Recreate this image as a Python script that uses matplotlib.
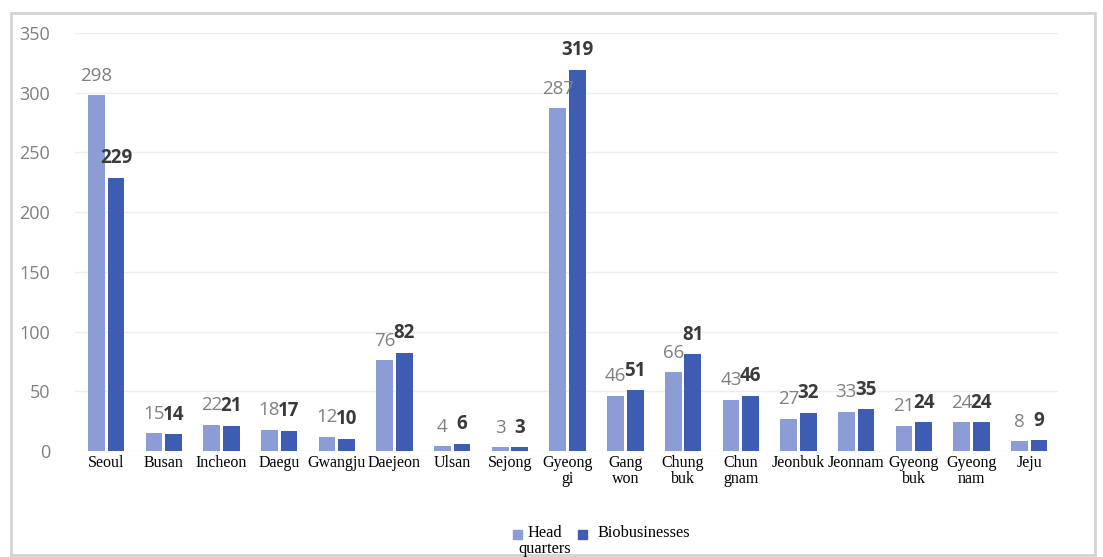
import numpy as np
import matplotlib.pyplot as plt
from matplotlib.patches import Rectangle

regions = ["Seoul", "Busan", "Incheon", "Daegu", "Gwangju", "Daejeon", "Ulsan",
           "Sejong", "Gyeong\ngi", "Gang\nwon", "Chung\nbuk", "Chun\ngnam",
           "Jeonbuk", "Jeonnam", "Gyeong\nbuk", "Gyeong\nnam", "Jeju"]
headquarters = [298, 15, 22, 18, 12, 76, 4, 3, 287, 46, 66, 43, 27, 33, 21, 24, 8]
biobusinesses = [229, 14, 21, 17, 10, 82, 6, 3, 319, 51, 81, 46, 32, 35, 24, 24, 9]
series_names = ["Head\nquarters", "Biobusinesses"]

hq_color = "#8c9dd6"
bio_color = "#3d5cb2"

W, H = 1103, 557
fig = plt.figure(figsize=(W / 100, H / 100), dpi=100)
ax = fig.add_axes([75 / W, 1 - 451 / H, (1058 - 75) / W, (451 - 33) / H])

# light frame round the whole chart
fig.patches.append(Rectangle((11 / W, 2 / H), 1084 / W, 542 / H,
                             transform=fig.transFigure, fill=False,
                             edgecolor="#d4d4d4", linewidth=2))

x = np.arange(len(regions))
w = 0.29
off = 0.17
ax.bar(x - off, headquarters, w, color=hq_color, zorder=2)
ax.bar(x + off, biobusinesses, w, color=bio_color, zorder=2)

for xi, v in zip(x, headquarters):
    ax.annotate(str(v), (xi - off, v), xytext=(0, 10.5), textcoords="offset points",
                ha="center", va="baseline", fontsize=13.5, color="#808080",
                family="Open Sans")
for xi, v in zip(x, biobusinesses):
    ax.annotate(str(v), (xi + off, v), xytext=(0, 10.5), textcoords="offset points",
                ha="center", va="baseline", fontsize=13.5, color="#3a3a3a",
                fontweight="bold", family="Open Sans")

ax.set_xlim(-0.54, 16.5)
ax.set_ylim(0, 350)
ax.set_yticks(range(0, 351, 50))
ax.tick_params(axis="y", length=0, pad=18, labelsize=13, labelcolor="#808080")
for lab in ax.get_yticklabels():
    lab.set_family("Open Sans")
ax.set_xticks(x)
ax.set_xticklabels(regions, family="Liberation Serif", fontsize=11.5,
                   linespacing=0.95)
ax.tick_params(axis="x", length=0, pad=3)
ax.grid(axis="y", color="#eeeeee", linewidth=1, zorder=0)
for s in ax.spines.values():
    s.set_visible(False)

# legend: small squares beside centred names
for (px, tx, col), name in zip([(513, 545, hq_color), (578, 597, bio_color)], series_names):
    fig.patches.append(Rectangle((px / W, 1 - 539 / H), 9 / W, 9 / H,
                                 transform=fig.transFigure, color=col))
    ha = "center" if "\n" in name else "left"
    fig.text(tx / W, 1 - 525 / H, name, ha=ha, va="top", multialignment="center",
             family="Liberation Serif", fontsize=11.8, linespacing=1.0)

fig.savefig("out.png", dpi=100)
